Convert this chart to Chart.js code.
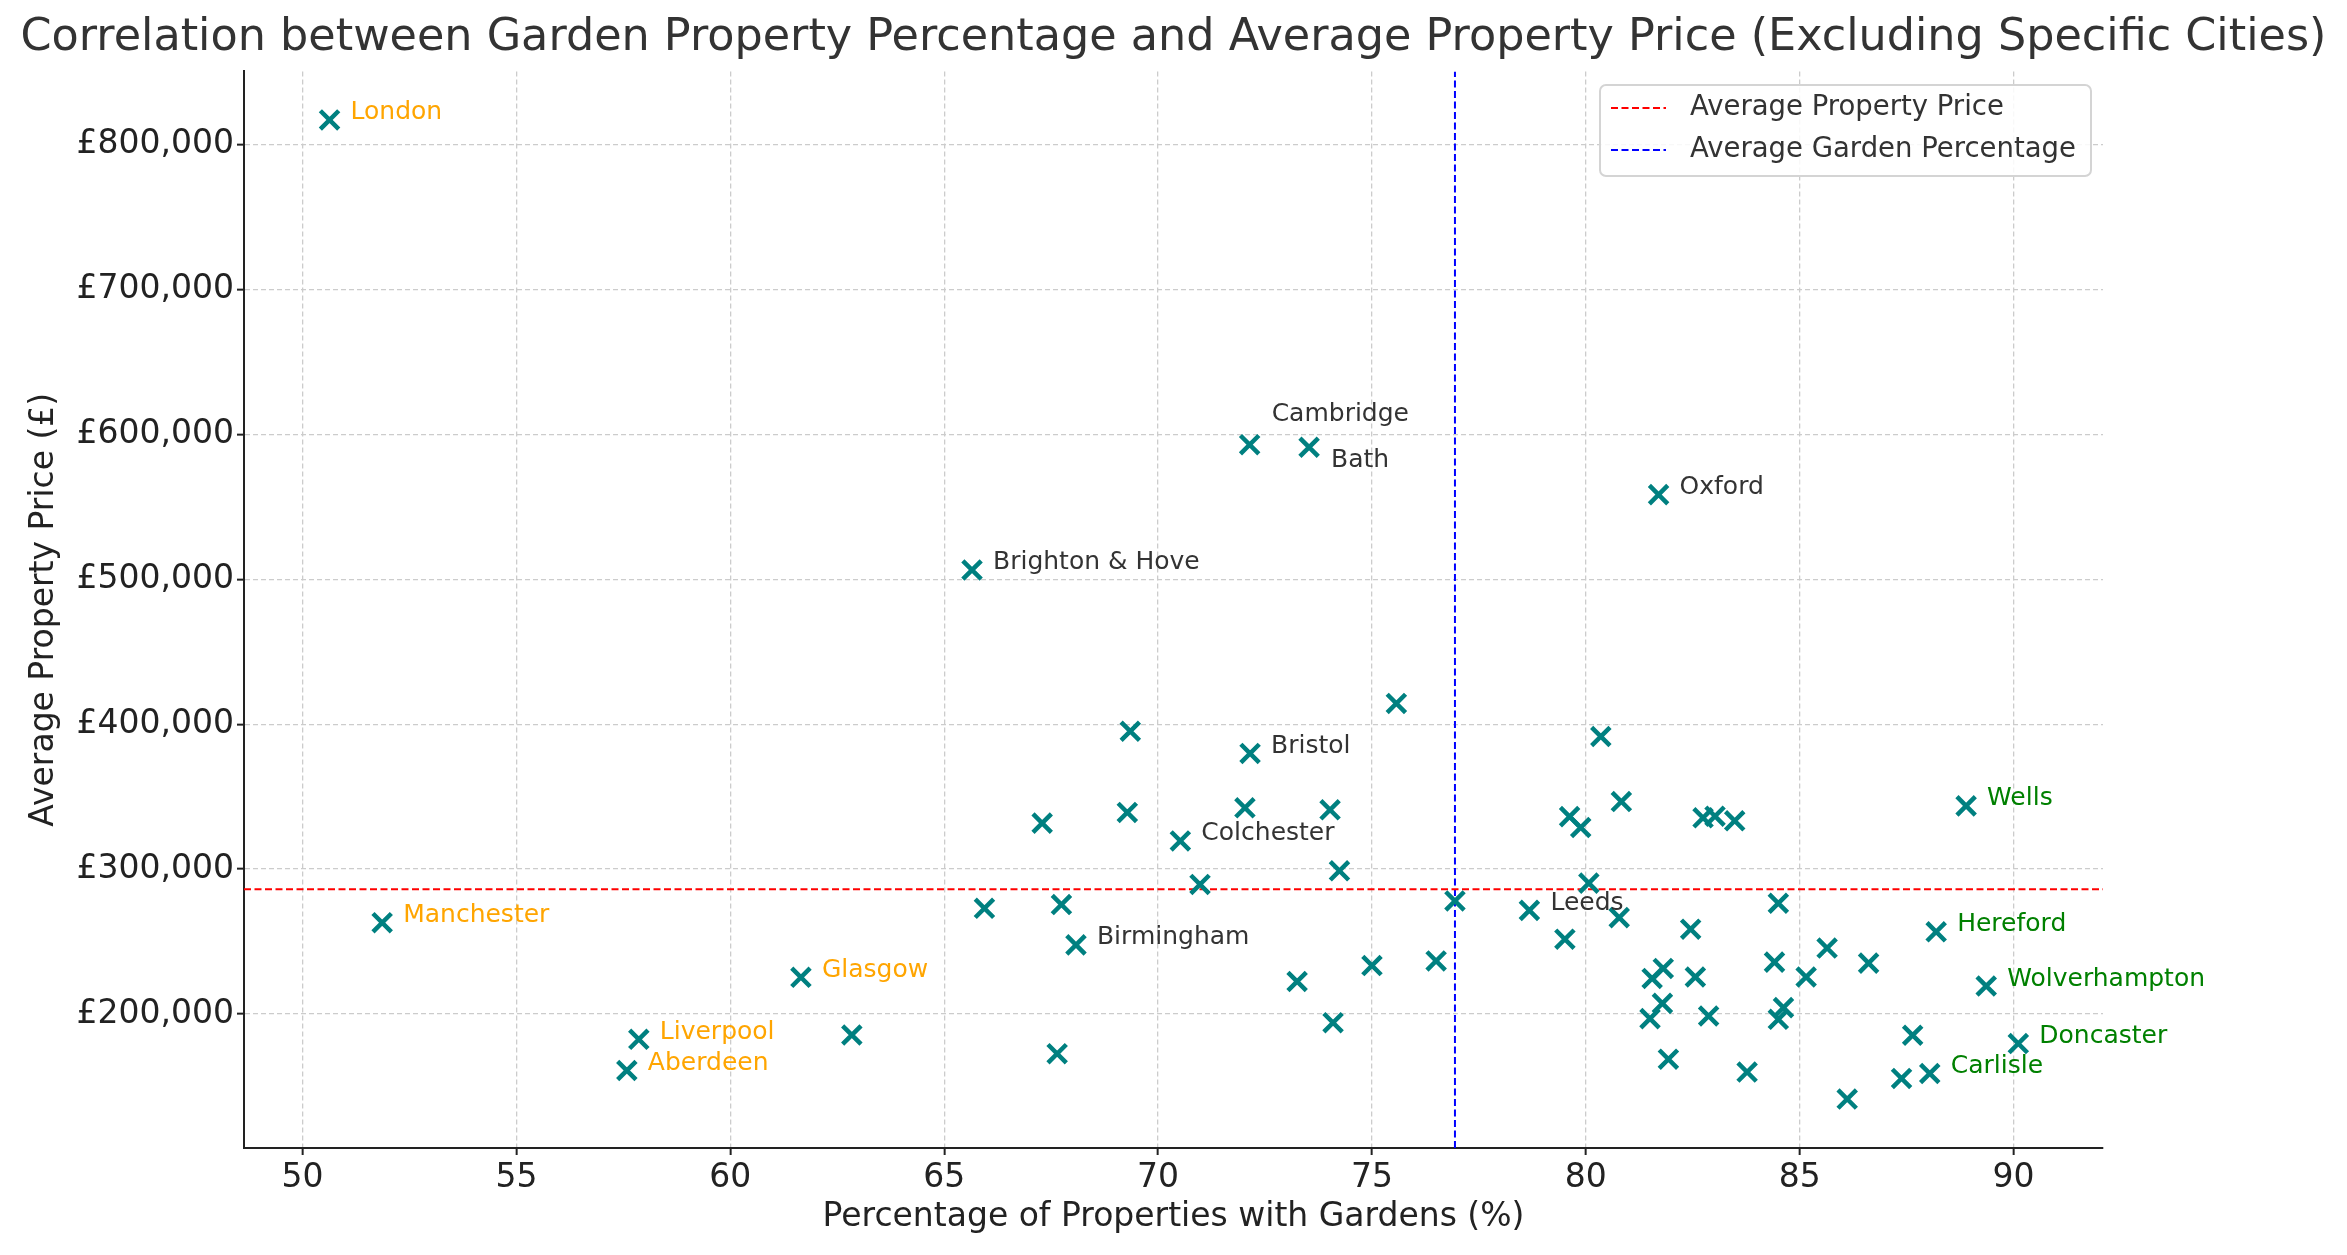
<!DOCTYPE html>
<html>
<head>
<meta charset="utf-8">
<script src="https://cdn.jsdelivr.net/npm/chart.js@4.4.1/dist/chart.umd.min.js"></script>
<style>
html,body{margin:0;padding:0;background:#ffffff;}
#wrap{width:2347px;height:1255px;}
</style>
</head>
<body>
<div id="wrap"><canvas id="c" width="2347" height="1255"></canvas></div>
<script>
// ---- Data ----
const cityNames = [
  'London','Manchester','Aberdeen','Liverpool','Glasgow','',
  'Brighton & Hove','','','','','Birmingham','','','Colchester','','',
  'Cambridge','Bristol','','Bath','','','','','','','',
  'Leeds','','','','','','','','','','Oxford','','','','','','','','','',
  '','','','','','','','','','','','Carlisle','Hereford','Wells','Wolverhampton','Doncaster'
];
const gardenPct = [
  50.63, 51.86, 57.58, 57.86, 61.65, 62.84,
  65.65, 65.94, 67.29, 67.64, 67.74, 68.08, 69.28, 69.35, 70.52, 70.98, 72.03,
  72.14, 72.15, 73.25, 73.53, 74.02, 74.09, 74.24, 75.00, 75.57, 76.50, 76.94,
  78.68, 79.51, 79.62, 79.88, 80.07, 80.35, 80.78, 80.83, 81.50, 81.55, 81.70, 81.79, 81.81, 81.93, 82.45, 82.56, 82.74, 82.87,
  83.02, 83.48, 83.77, 84.41, 84.50, 84.50, 84.62, 85.15, 85.64, 86.11, 86.61, 87.38, 87.64, 88.04, 88.19, 88.89, 89.36, 90.11
];
const avgPrice = [
  817000, 263000, 161000, 182500, 225300, 185500,
  506400, 272900, 331700, 172600, 275500, 247700, 339100, 395100, 319400, 289400, 342300,
  592900, 379800, 222400, 591100, 340900, 194000, 298800, 233400, 414300, 236600, 278000,
  271500, 251600, 336200, 328700, 290300, 391500, 266500, 346600, 196800, 224500, 558400, 207300, 231400, 168800, 258500, 225500, 335400, 198600,
  336500, 333300, 159900, 235800, 276400, 196300, 204400, 225500, 245500, 141300, 235100, 155500, 185300, 158900, 256700, 343600, 219300, 179600
];
const excludedCities = ['London','Manchester','Glasgow','Liverpool','Aberdeen'];
const gardenRichCities = ['Wells','Hereford','Wolverhampton','Doncaster','Carlisle'];
const xTickValues = [50, 55, 60, 65, 70, 75, 80, 85, 90];
const yTickValues = [200000, 300000, 400000, 500000, 600000, 700000, 800000];
const averagePriceValue = 286000;
const averageGardenValue = 76.94;
const xRange = [48.63, 92.09];
const yRange = [107500, 850500];

// ---- Styling (kept apart from the data) ----
const FONT = '"DejaVu Sans", "Liberation Sans", sans-serif';
const labelOffsets = { 'Cambridge': [22, -30], 'Bath': [22, 13] };
const defaultLabelOffset = [21, -7];
function labelColor(name) {
  if (excludedCities.includes(name)) return '#FFA500';
  if (gardenRichCities.includes(name)) return '#008000';
  return '#333333';
}
function fmtPound(v) {
  return '£' + String(Math.round(v)).replace(/\B(?=(\d{3})+(?!\d))/g, ',');
}

const points = gardenPct.map((x, i) => ({ x: x, y: avgPrice[i] }));

const cityLabelPlugin = {
  id: 'cityLabels',
  afterDatasetsDraw(chart) {
    const meta = chart.getDatasetMeta(0);
    const ctx = chart.ctx;
    ctx.save();
    ctx.font = '25px ' + FONT;
    ctx.textBaseline = 'middle';
    ctx.textAlign = 'left';
    meta.data.forEach((pt, i) => {
      const name = cityNames[i];
      if (!name) return;
      const off = labelOffsets[name] || defaultLabelOffset;
      ctx.fillStyle = labelColor(name);
      ctx.fillText(name, pt.x + off[0], pt.y + off[1]);
    });
    ctx.restore();
  }
};

const legendPlugin = {
  id: 'innerLegend',
  afterDraw(chart) {
    const ctx = chart.ctx;
    const items = [
      { text: chart.data.datasets[1].label, color: chart.data.datasets[1].borderColor },
      { text: chart.data.datasets[2].label, color: chart.data.datasets[2].borderColor }
    ];
    const bx = 1600, by = 85, bw = 491, bh = 91, r = 6;
    ctx.save();
    ctx.beginPath();
    ctx.moveTo(bx + r, by);
    ctx.arcTo(bx + bw, by, bx + bw, by + bh, r);
    ctx.arcTo(bx + bw, by + bh, bx, by + bh, r);
    ctx.arcTo(bx, by + bh, bx, by, r);
    ctx.arcTo(bx, by, bx + bw, by, r);
    ctx.closePath();
    ctx.fillStyle = 'rgba(255,255,255,0.85)';
    ctx.fill();
    ctx.strokeStyle = '#d4d4d4';
    ctx.lineWidth = 2;
    ctx.stroke();
    ctx.font = '27.5px ' + FONT;
    ctx.textBaseline = 'middle';
    ctx.textAlign = 'left';
    items.forEach((it, i) => {
      const y = 108 + i * 42;
      ctx.beginPath();
      ctx.setLineDash([7, 3.5]);
      ctx.strokeStyle = it.color;
      ctx.lineWidth = 2;
      ctx.moveTo(1611, y);
      ctx.lineTo(1666, y);
      ctx.stroke();
      ctx.setLineDash([]);
      ctx.fillStyle = '#333333';
      ctx.fillText(it.text, 1690, y);
    });
    ctx.restore();
  }
};

Chart.defaults.font.family = FONT;

new Chart(document.getElementById('c'), {
  type: 'scatter',
  data: {
    datasets: [
      {
        label: 'Cities',
        data: points,
        pointStyle: 'crossRot',
        pointRadius: 13,
        pointHoverRadius: 13,
        borderColor: '#008080',
        backgroundColor: '#008080',
        pointBorderWidth: 4.5,
        borderWidth: 4.5
      },
      {
        type: 'line',
        label: 'Average Property Price',
        data: [{ x: xRange[0], y: averagePriceValue }, { x: xRange[1], y: averagePriceValue }],
        borderColor: '#ff0000',
        borderWidth: 2,
        borderDash: [7, 3.5],
        pointRadius: 0,
        fill: false
      },
      {
        type: 'line',
        label: 'Average Garden Percentage',
        data: [{ x: averageGardenValue, y: yRange[0] }, { x: averageGardenValue, y: yRange[1] }],
        borderColor: '#0000ff',
        borderWidth: 2,
        borderDash: [7, 3.5],
        pointRadius: 0,
        fill: false
      }
    ]
  },
  options: {
    responsive: false,
    animation: false,
    devicePixelRatio: 1,
    layout: { padding: { left: 0, right: 0, top: 0, bottom: 0 } },
    plugins: {
      legend: { display: false },
      tooltip: { enabled: false },
      title: {
        display: true,
        text: 'Correlation between Garden Property Percentage and Average Property Price (Excluding Specific Cities)',
        color: '#333333',
        font: { size: 44.5, weight: 'normal', family: FONT },
        padding: { top: 12, bottom: 6 }
      }
    },
    scales: {
      x: {
        type: 'linear',
        position: 'bottom',
        min: xRange[0],
        max: xRange[1],
        afterBuildTicks: (s) => { s.ticks = xTickValues.map(v => ({ value: v })); },
        afterFit: (s) => { s.height = 107; },
        ticks: { font: { size: 33 }, color: '#222222', padding: 4, maxRotation: 0, autoSkip: false, callback: (v) => String(v) },
        grid: { color: '#cccccc', lineWidth: 1.3, tickColor: '#222222', tickLength: 7, tickWidth: 2, tickBorderDash: [] },
        border: { display: true, color: '#222222', width: 2, dash: [5, 3] },
        title: { display: true, text: 'Percentage of Properties with Gardens (%)', color: '#222222', font: { size: 33 }, padding: { top: 0, bottom: 18 } }
      },
      y: {
        type: 'linear',
        position: 'left',
        min: yRange[0],
        max: yRange[1],
        afterBuildTicks: (s) => { s.ticks = yTickValues.map(v => ({ value: v })); },
        afterFit: (s) => { s.width = 244; },
        ticks: { font: { size: 33 }, color: '#222222', padding: 3, callback: (v) => fmtPound(v) },
        grid: { color: '#cccccc', lineWidth: 1.3, tickColor: '#222222', tickLength: 7, tickWidth: 2, tickBorderDash: [] },
        border: { display: true, color: '#222222', width: 2, dash: [5, 3] },
        title: { display: true, text: 'Average Property Price (£)', color: '#222222', font: { size: 33 }, padding: { top: 25, bottom: 0 } }
      },
      ySpacer: {
        type: 'linear',
        position: 'right',
        display: true,
        min: 0,
        max: 1,
        afterFit: (s) => { s.width = 244; },
        ticks: { display: false },
        grid: { display: false, drawTicks: false },
        border: { display: false },
        title: { display: false }
      }
    }
  },
  plugins: [cityLabelPlugin, legendPlugin]
});
</script>
</body>
</html>
